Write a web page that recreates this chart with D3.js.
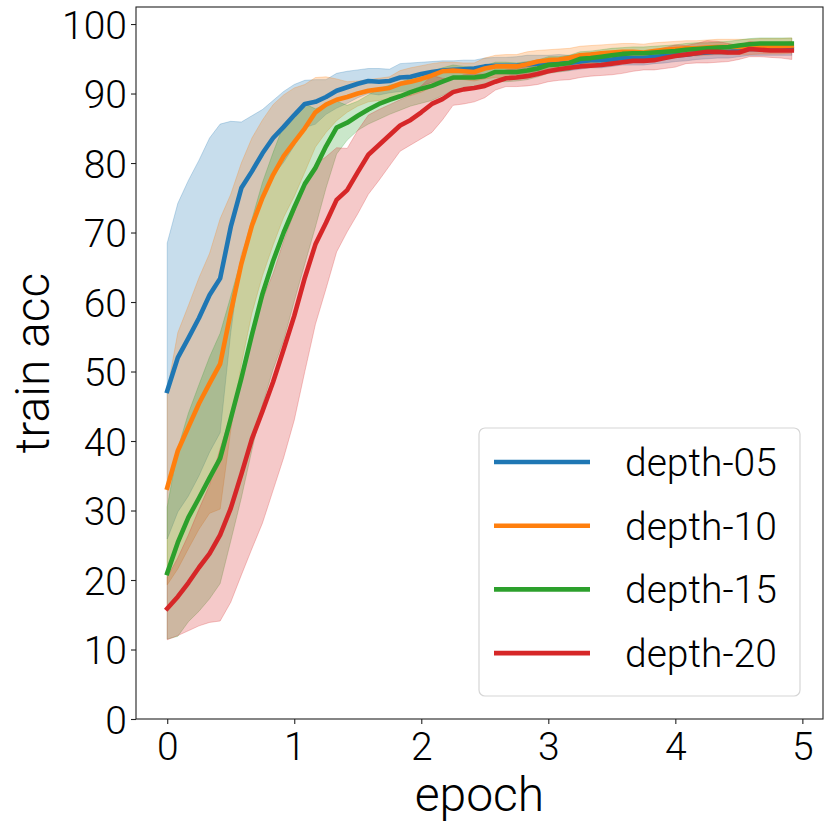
<!DOCTYPE html>
<html>
<head>
<meta charset="utf-8">
<script src="https://cdn.jsdelivr.net/npm/d3@7"></script>
<style>
  body { margin: 0; background: #fff; }
  svg { display: block; font-family: Roboto, "Liberation Sans", sans-serif; font-weight: 300; }
</style>
</head>
<body>
<div id="chart"></div>
<script>
// Podaci (ocitani sa slike), 12 tocaka po epohi
const stepsPerEpoch = 12;
const runs = ["depth-05", "depth-10", "depth-15", "depth-20"];
const colors = ["#1f77b4", "#ff7f0e", "#2ca02c", "#d62728"];
const xTicks = [0, 1, 2, 3, 4, 5];
const yTicks = [0, 10, 20, 30, 40, 50, 60, 70, 80, 90, 100];

const meanD05 = [47.2, 52.0, 54.8, 57.7, 61.0, 63.4, 70.8, 76.4, 78.8, 81.4,
  83.6, 85.2, 86.9, 88.5, 88.8, 89.5, 90.4, 90.9, 91.4, 91.8,
  91.7, 91.8, 92.3, 92.4, 92.8, 93.1, 93.3, 93.4, 93.5, 93.6,
  93.9, 94.0, 94.0, 94.0, 94.2, 94.3, 94.3, 94.4, 94.4, 94.6,
  94.8, 94.8, 94.9, 95.1, 95.1, 95.1, 95.3, 95.4, 95.5, 95.6,
  95.8, 95.9, 96.0, 96.0, 96.2, 96.4, 96.4, 96.4, 96.4, 96.4];
const stdD05 = [21.3, 22.2, 22.7, 22.7, 22.6, 22.2, 15.2, 9.5, 8.0, 6.3,
  5.4, 5.1, 4.4, 3.4, 3.2, 2.5, 2.5, 2.3, 2.0, 1.8,
  1.9, 1.7, 2.0, 2.0, 1.7, 1.5, 1.4, 1.3, 1.3, 1.2,
  1.2, 1.2, 1.2, 1.3, 1.3, 1.2, 1.2, 1.2, 1.1, 1.1,
  1.1, 1.1, 1.0, 1.0, 1.0, 1.0, 1.0, 1.0, 0.9, 0.9,
  0.9, 0.9, 0.9, 0.9, 0.9, 0.9, 0.9, 0.9, 0.9, 0.9];

const meanD10 = [33.3, 38.6, 42.0, 45.4, 48.3, 51.1, 58.5, 65.5, 71.0, 75.0,
  78.3, 81.0, 83.0, 85.0, 87.3, 88.4, 89.1, 89.5, 90.0, 90.4,
  90.6, 90.8, 91.4, 91.7, 92.1, 92.6, 93.2, 93.3, 93.2, 93.1,
  93.6, 93.9, 93.9, 93.9, 94.2, 94.6, 94.8, 94.9, 95.1, 95.5,
  95.6, 95.8, 95.9, 96.0, 96.0, 95.9, 96.1, 96.3, 96.4, 96.5,
  96.5, 96.6, 96.7, 96.7, 96.7, 96.7, 96.8, 96.8, 96.8, 96.9];
const stdD10 = [14.0, 17.0, 17.5, 18.1, 18.7, 20.9, 17.0, 14.5, 12.6, 11.2,
  10.1, 8.8, 7.8, 6.3, 5.0, 4.0, 3.0, 2.2, 1.8, 1.6,
  1.6, 1.6, 1.9, 2.0, 1.9, 1.7, 1.3, 1.2, 1.2, 1.3,
  1.5, 1.6, 1.7, 1.7, 1.8, 1.6, 1.5, 1.5, 1.4, 1.3,
  1.3, 1.2, 1.2, 1.2, 1.2, 1.2, 1.2, 1.1, 1.1, 1.1,
  1.1, 1.1, 1.1, 1.1, 1.1, 1.1, 1.1, 1.1, 1.1, 1.1];

const meanD15 = [21.0, 25.4, 29.0, 31.8, 34.7, 37.5, 43.2, 49.0, 55.3, 61.2,
  65.9, 70.0, 73.6, 77.0, 79.3, 82.4, 85.1, 85.8, 86.8, 87.7,
  88.5, 89.1, 89.6, 90.2, 90.7, 91.1, 91.7, 92.3, 92.3, 92.3,
  92.5, 93.1, 93.1, 93.1, 93.3, 93.6, 94.1, 94.2, 94.4, 95.0,
  95.1, 95.3, 95.5, 95.7, 95.8, 95.8, 95.9, 96.0, 96.1, 96.3,
  96.4, 96.5, 96.6, 96.7, 96.9, 97.1, 97.2, 97.2, 97.2, 97.2];
const stdD15 = [9.5, 13.5, 15.0, 16.3, 17.4, 18.0, 17.6, 17.2, 16.6, 16.0,
  15.6, 15.5, 13.5, 11.5, 8.5, 6.0, 3.8, 2.5, 2.1, 2.1,
  2.2, 2.1, 2.0, 2.0, 2.1, 2.1, 2.0, 1.8, 1.6, 1.5,
  1.5, 1.4, 1.4, 1.3, 1.3, 1.2, 1.2, 1.1, 1.1, 1.0,
  1.0, 1.0, 1.0, 0.9, 0.9, 0.9, 0.9, 0.9, 0.9, 0.9,
  0.9, 0.8, 0.8, 0.8, 0.8, 0.8, 0.8, 0.8, 0.8, 0.8];

const meanD20 = [15.9, 17.6, 19.6, 21.8, 23.8, 26.5, 30.3, 35.2, 40.3, 44.3,
  48.5, 53.2, 58.0, 63.5, 68.3, 71.4, 74.7, 76.1, 78.7, 81.2,
  82.6, 84.0, 85.4, 86.2, 87.3, 88.5, 89.2, 90.2, 90.6, 90.8,
  91.1, 91.7, 92.2, 92.3, 92.5, 92.8, 93.2, 93.5, 93.7, 93.9,
  94.0, 94.1, 94.3, 94.5, 94.7, 94.7, 94.8, 95.1, 95.4, 95.6,
  95.8, 96.0, 96.0, 95.9, 95.9, 96.4, 96.3, 96.2, 96.2, 96.2];
const stdD20 = [4.5, 5.6, 6.9, 8.4, 9.9, 12.4, 13.5, 14.5, 15.8, 16.1,
  15.6, 15.6, 15.0, 13.5, 11.5, 9.5, 7.5, 6.0, 6.0, 5.7,
  5.1, 4.4, 3.7, 3.6, 3.8, 4.1, 3.0, 1.9, 2.1, 2.0,
  1.7, 1.2, 1.2, 1.3, 1.4, 1.5, 1.5, 1.6, 1.7, 1.6,
  1.5, 1.5, 1.6, 1.6, 1.5, 1.3, 1.4, 1.5, 1.6, 1.3,
  1.4, 1.6, 1.5, 1.3, 1.0, 1.1, 1.0, 1.0, 1.1, 1.3];

const means = [meanD05, meanD10, meanD15, meanD20];
const stds = [stdD05, stdD10, stdD15, stdD20];

function drawChart() {
    const dimenzije = {
        sirina: 831,
        visina: 831,
        margine: { top: 7, right: 8, bottom: 112, left: 136 },
    };
    dimenzije.grSirina = dimenzije.sirina - dimenzije.margine.left - dimenzije.margine.right;
    dimenzije.grVisina = dimenzije.visina - dimenzije.margine.top - dimenzije.margine.bottom;

    const svg = d3.select("#chart")
        .append("svg")
        .attr("width", dimenzije.sirina)
        .attr("height", dimenzije.visina);

    const granice = svg.append("g")
        .attr("transform", `translate(${dimenzije.margine.left},${dimenzije.margine.top})`);

    // Skale (matplotlib margine od 5%)
    const lastX = (meanD05.length - 1) / stepsPerEpoch;
    const pad = lastX * 0.05;
    const xScale = d3.scaleLinear()
        .domain([-pad, lastX + pad])
        .range([0, dimenzije.grSirina]);

    const yScale = d3.scaleLinear()
        .domain([0, 102.45])
        .range([dimenzije.grVisina, 0]);

    const series = runs.map((name, s) => ({
        name,
        color: colors[s],
        points: means[s].map((m, i) => ({ x: i / stepsPerEpoch, m, sd: stds[s][i] })),
    }));

    // Pojasevi (mean +- std)
    const area = d3.area()
        .x(d => xScale(d.x))
        .y0(d => yScale(d.m - d.sd))
        .y1(d => yScale(d.m + d.sd));

    granice.append("clipPath").attr("id", "clip")
        .append("rect")
        .attr("width", dimenzije.grSirina)
        .attr("height", dimenzije.grVisina);

    const plot = granice.append("g").attr("clip-path", "url(#clip)");

    series.forEach(sr => {
        plot.append("path")
            .datum(sr.points)
            .attr("d", area)
            .attr("fill", sr.color)
            .attr("fill-opacity", 0.25)
            .attr("stroke", sr.color)
            .attr("stroke-opacity", 0.25)
            .attr("stroke-width", 1);
    });

    const line = d3.line()
        .x(d => xScale(d.x))
        .y(d => yScale(d.m));

    series.forEach(sr => {
        plot.append("path")
            .datum(sr.points)
            .attr("d", line)
            .attr("fill", "none")
            .attr("stroke", sr.color)
            .attr("stroke-width", 4.6)
            .attr("stroke-linejoin", "round")
            .attr("stroke-linecap", "square");
    });

    // Osi
    const xAxis = granice.append("g")
        .attr("transform", `translate(0,${dimenzije.grVisina})`)
        .call(d3.axisBottom(xScale).tickValues(xTicks).tickSize(5).tickPadding(8).tickFormat(d3.format("d")));

    const yAxis = granice.append("g")
        .call(d3.axisLeft(yScale).tickValues(yTicks).tickSize(5).tickPadding(4).tickFormat(d3.format("d")));

    [xAxis, yAxis].forEach(ax => {
        ax.select(".domain").remove();
        ax.selectAll(".tick line").attr("stroke", "#222").attr("stroke-width", 1.1);
        ax.selectAll(".tick text")
            .attr("fill", "#000")
            .style("font-family", "Roboto, sans-serif")
            .style("font-weight", 300)
            .style("font-size", "39px");
    });
    yAxis.selectAll(".tick text").attr("dy", "0.36em");
    xAxis.selectAll(".tick text").attr("dy", "0.72em");

    // Okvir
    granice.append("rect")
        .attr("width", dimenzije.grSirina)
        .attr("height", dimenzije.grVisina)
        .attr("fill", "none")
        .attr("stroke", "#222")
        .attr("stroke-width", 1.1);

    // Naslovi osi
    svg.append("text")
        .attr("x", dimenzije.margine.left + dimenzije.grSirina / 2)
        .attr("y", 811)
        .attr("text-anchor", "middle")
        .style("font-size", "48px")
        .text("epoch");

    svg.append("text")
        .attr("transform", `translate(49,363) rotate(-90)`)
        .attr("text-anchor", "middle")
        .style("font-size", "48px")
        .text("train acc");

    // Legenda
    const legenda = svg.append("g").attr("transform", "translate(479,428)");
    legenda.append("rect")
        .attr("width", 321)
        .attr("height", 268)
        .attr("rx", 6)
        .attr("fill", "#fff")
        .attr("fill-opacity", 0.8)
        .attr("stroke", "#d6d6d6")
        .attr("stroke-width", 1.2);

    series.forEach((sr, i) => {
        const gy = 34 + i * 63.7;
        legenda.append("line")
            .attr("x1", 15).attr("x2", 111)
            .attr("y1", gy).attr("y2", gy)
            .attr("stroke", sr.color)
            .attr("stroke-width", 4.6);
        legenda.append("text")
            .attr("x", 146)
            .attr("y", gy)
            .attr("dy", "0.36em")
            .style("font-size", "39px")
            .text(sr.name);
    });
}

drawChart();
</script>
</body>
</html>
